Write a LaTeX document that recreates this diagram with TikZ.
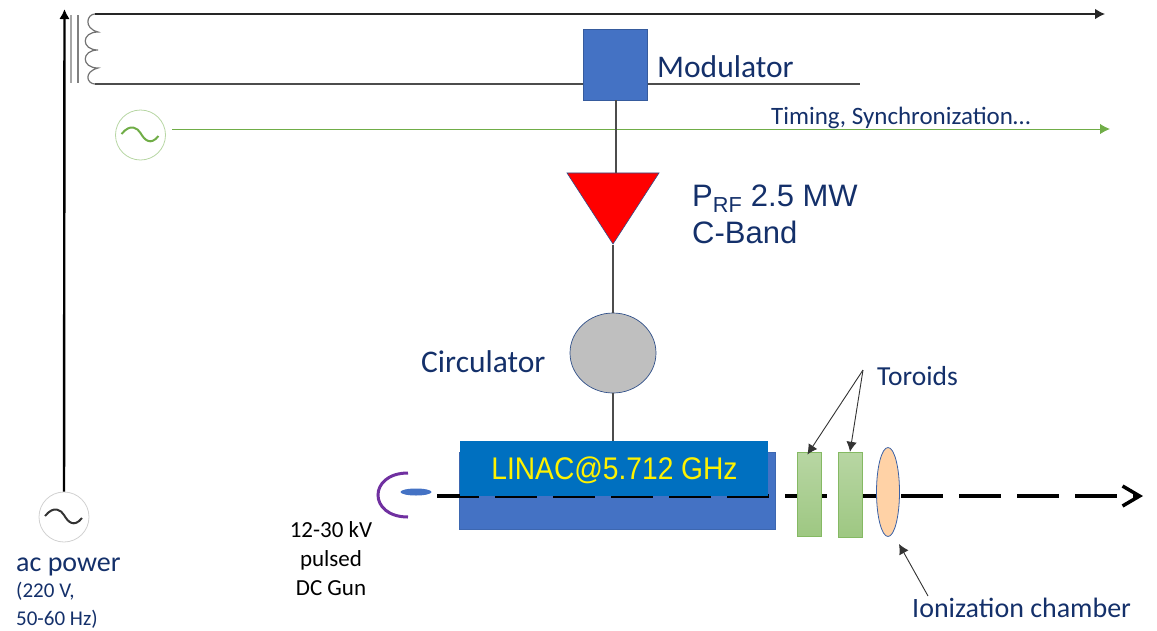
\documentclass[tikz,border=0pt]{standalone}
\usepackage{fontspec}
\setmainfont{Carlito}
\newfontfamily\arialfont{Liberation Sans}
\newfontfamily\arialslim[FakeStretch=0.9]{Liberation Sans}
\usepackage{xcolor}
\usetikzlibrary{positioning,arrows.meta,calc,shapes.geometric}
\definecolor{navy}{HTML}{14306A}
\definecolor{modblue}{HTML}{4472C4}
\definecolor{linacblue}{HTML}{0070C0}
\definecolor{oscgreen}{HTML}{70AD47}
\definecolor{gunpurple}{HTML}{7030A0}

\begin{document}
\begin{tikzpicture}[x=1pt, y=-1pt, >={Latex[length=10pt,width=10.5pt]},
  lab/.style={text=navy, inner sep=0pt, anchor=west},
  big/.style={font=\fontsize{31.5}{36}\selectfont},
  arial/.style={font=\arialfont\fontsize{31}{37}\selectfont},
  src/.style={draw, circle, minimum size=50pt, inner sep=0pt, line width=0.8pt},
  tor/.style={draw=oscgreen!85, top color=oscgreen!50!white, bottom color=oscgreen!68!white,
    minimum width=24pt, inner sep=0pt, line width=0.9pt},
  wire/.style={line width=1.2pt, black!70}]
\useasboundingbox (0,0) rectangle (1157,630);
% sources
\node[src, draw=black!18] (ac) at (64,517) {};
\node[src, draw=oscgreen!50] (osc) at (140.5,135) {};
\draw[line width=2pt, black!80] ($(ac)+(-19,-1)$) .. controls ($(ac)+(-10,-12)$) and ($(ac)+(-3,-7)$) .. ($(ac)+(0,-2)$)
  .. controls ($(ac)+(4,5)$) and ($(ac)+(10,11)$) .. ($(ac)+(18,1)$);
\draw[line width=2pt, oscgreen] ($(osc)+(-19,-1)$) .. controls ($(osc)+(-10,-12)$) and ($(osc)+(-3,-7)$) .. ($(osc)+(0,-2)$)
  .. controls ($(osc)+(4,5)$) and ($(osc)+(10,11)$) .. ($(osc)+(18,1)$);
% transformer
\coordinate (tl) at (95,14);
\coordinate (bl) at (95,84);
\coordinate (topend) at (1105,14);
\coordinate (botend) at (860,84);
\coordinate (acend) at (64.5,9);
\coordinate (oscout) at (172,129);
\coordinate (oscend) at (1110,129);
\draw[line width=1.6pt, black!35] (71,15) -- (71,83);
\draw[line width=1.6pt, black!50] (78,15) -- (78,83);
\draw[line width=1.2pt, black!55] (tl) .. controls (87,14) and (83,28) .. (98,32)
  .. controls (81,32) and (81,50) .. (98,50)
  .. controls (81,50) and (81,68) .. (98,68)
  .. controls (83,72) and (87,84) .. (bl);
\draw[->, line width=1.2pt, black!85] (tl) -- (topend);
\draw[wire] (bl) -- (botend);
\draw[->, line width=2.4pt] (ac) -- (acend);
\draw[->, line width=1pt, oscgreen] (oscout) -- (oscend);
% rf chain
\node[draw=modblue!80!black, fill=modblue, minimum width=64pt, minimum height=71pt, inner sep=0pt] (mod) at (615,64.5) {};
\node[isosceles triangle, isosceles triangle stretches, shape border rotate=-90,
  fill=red, draw=modblue!70!black, line width=0.6pt, minimum width=92pt, minimum height=71pt, inner sep=0pt] (amp) at (613,198) {};
\node[ellipse, fill=black!25, draw=modblue!70!black, line width=0.7pt, minimum width=86pt, minimum height=80pt, inner sep=0pt] (circ) at (613,353) {};
% linac and beam
\node[fill=modblue, draw=modblue!90!black, minimum width=316pt, minimum height=77pt, inner sep=0pt] (lin) at (617,491) {};
\coordinate (bstart) at (437,496);
\coordinate (bend) at (1143,496);
\draw[line width=4.5pt, dash pattern=on 42pt off 16pt, -{Straight Barb[length=17pt,width=20pt,line width=3.5pt]}] (bstart) -- (bend);
\node[fill=linacblue, minimum width=308pt, minimum height=55pt, inner sep=0pt] (lac) at (614,468.5) {};
\node[text=yellow, inner sep=0pt, font=\arialslim\fontsize{31.3}{37}\selectfont] (laclab) at (614.5,470) {LINAC@5.712 GHz};
\draw[wire] (mod.south -| 616,0) -- (616,0 |- amp.lower side);
\draw[wire] (amp.apex) -- (circ.north);
\draw[wire] (circ.south) -- (lac.north -| circ.south);
\node[tor, minimum height=84pt] (t1) at (809,494.5) {};
\node[tor, minimum height=85.5pt] (t2) at (850,495) {};
\node[ellipse, fill=orange!35!white, draw=modblue!85!black, line width=0.8pt, minimum width=23pt, minimum height=89pt, inner sep=0pt] (ic) at (888,492) {};
% gun
\coordinate (gt) at (408,473);
\coordinate (gb) at (408,517);
\draw[line width=3pt, gunpurple] (gt) .. controls (388,473) and (378,484) .. (378,495) .. controls (378,506) and (388,517) .. (gb);
\node[ellipse, fill=modblue, minimum width=31pt, minimum height=7pt, inner sep=0pt] (cat) at (416,492) {};
% labels
\node[lab, big] (modlab) at (657,67) {Modulator};
\node[lab, font=\fontsize{25}{30}\selectfont] (timlab) at (771,118) {Timing, Synchronization…};
\node[lab, arial, align=left] (rflab) at (692,214) {P\textsubscript{RF} 2.5 MW\\C-Band};
\node[lab, big] (cirlab) at (421,362) {Circulator};
\node[lab, font=\fontsize{27.5}{32}\selectfont] (torlab) at (877,376) {Toroids};
\node[lab, font=\fontsize{28}{33}\selectfont] (iclab) at (912,608) {Ionization chamber};
\node[lab, font=\fontsize{28}{33}\selectfont] (aclab) at (16,567) {ac power};
\node[lab, font=\fontsize{21}{28}\selectfont, align=left, anchor=north west] (acsub) at (16,582) {(220 V,\\50-60 Hz)};
\node[inner sep=0pt, align=center, text=black, font=\fontsize{23}{29}\selectfont] (gunlab) at (331,559) {12-30 kV\\pulsed\\DC Gun};
% pointers
\coordinate (torfoot) at (863,370);
\coordinate (icfoot) at (928,596);
\coordinate (ictip) at (899,544);
\draw[->, line width=0.9pt, black!80, shorten >=-3pt] (torfoot) -- (t1.north);
\draw[->, line width=0.9pt, black!80] (torfoot) -- (t2.north);
\draw[->, line width=0.9pt, black!80] (icfoot) -- (ictip);
\end{tikzpicture}
\end{document}
